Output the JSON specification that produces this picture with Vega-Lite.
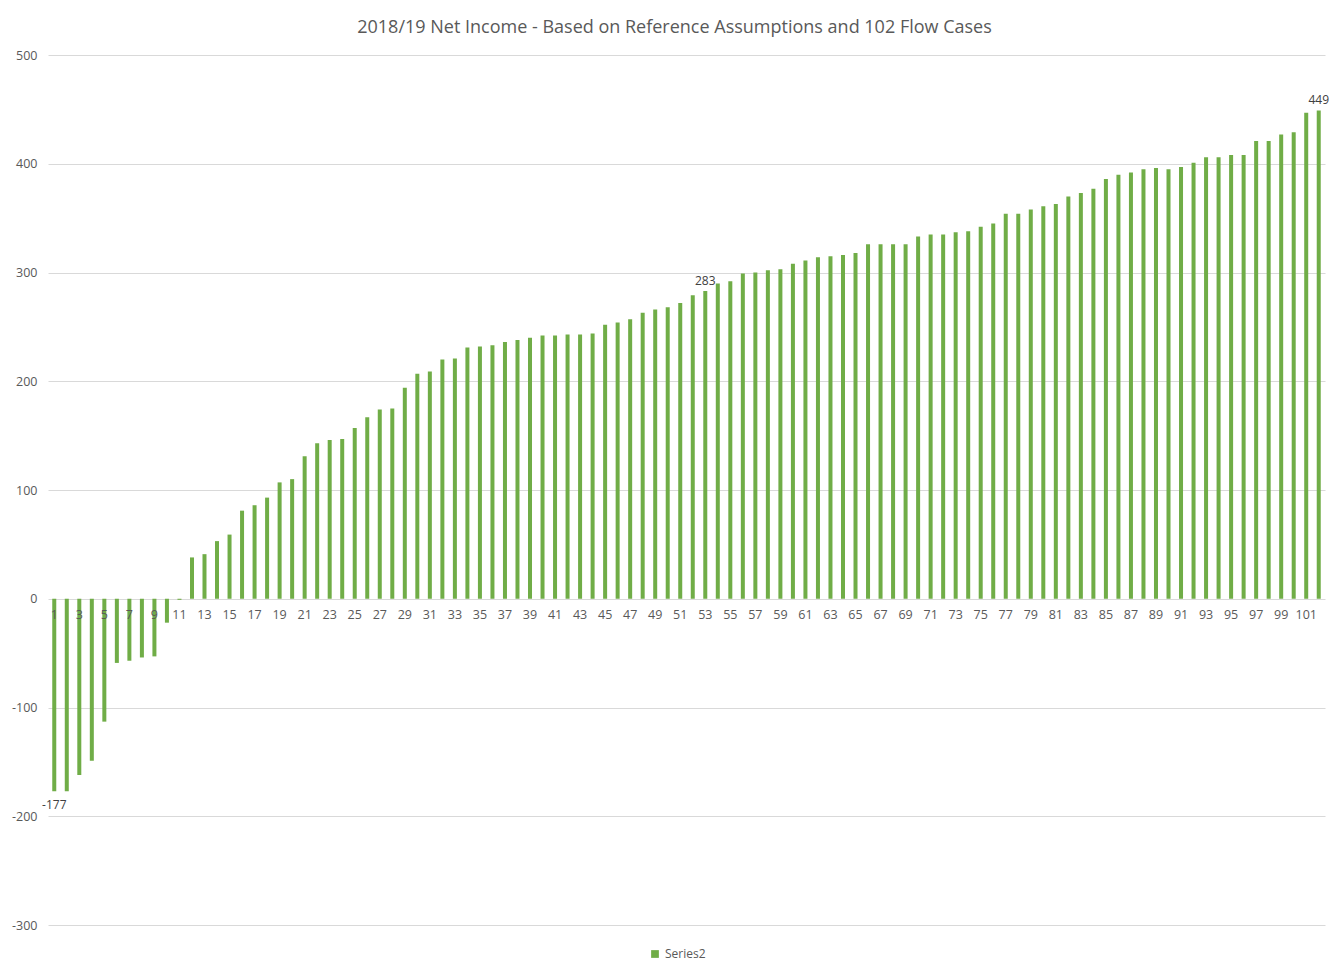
{
  "$schema": "https://vega.github.io/schema/vega-lite/v6.json",
  "autosize": "none",
  "width": 1277,
  "height": 870,
  "padding": {"left": 48, "top": 55, "right": 19, "bottom": 50},
  "background": "white",
  "config": {
    "font": "Open Sans",
    "view": {"stroke": null},
    "axis": {"labelColor": "#595959", "labelFont": "Open Sans", "labelFontSize": 12.5}
  },
  "title": {
    "text": "2018/19 Net Income - Based on Reference Assumptions and 102 Flow Cases",
    "font": "Open Sans",
    "fontSize": 18,
    "fontWeight": "normal",
    "color": "#595959",
    "anchor": "middle",
    "offset": 12,
    "dx": -12
  },
  "data": {
    "values": [
      {"case": 1, "value": -177, "series": "Series2"},
      {"case": 2, "value": -177, "series": "Series2"},
      {"case": 3, "value": -162, "series": "Series2"},
      {"case": 4, "value": -149, "series": "Series2"},
      {"case": 5, "value": -113, "series": "Series2"},
      {"case": 6, "value": -59, "series": "Series2"},
      {"case": 7, "value": -57, "series": "Series2"},
      {"case": 8, "value": -54, "series": "Series2"},
      {"case": 9, "value": -53, "series": "Series2"},
      {"case": 10, "value": -22, "series": "Series2"},
      {"case": 11, "value": -1, "series": "Series2"},
      {"case": 12, "value": 38, "series": "Series2"},
      {"case": 13, "value": 41, "series": "Series2"},
      {"case": 14, "value": 53, "series": "Series2"},
      {"case": 15, "value": 59, "series": "Series2"},
      {"case": 16, "value": 81, "series": "Series2"},
      {"case": 17, "value": 86, "series": "Series2"},
      {"case": 18, "value": 93, "series": "Series2"},
      {"case": 19, "value": 107, "series": "Series2"},
      {"case": 20, "value": 110, "series": "Series2"},
      {"case": 21, "value": 131, "series": "Series2"},
      {"case": 22, "value": 143, "series": "Series2"},
      {"case": 23, "value": 146, "series": "Series2"},
      {"case": 24, "value": 147, "series": "Series2"},
      {"case": 25, "value": 157, "series": "Series2"},
      {"case": 26, "value": 167, "series": "Series2"},
      {"case": 27, "value": 174, "series": "Series2"},
      {"case": 28, "value": 175, "series": "Series2"},
      {"case": 29, "value": 194, "series": "Series2"},
      {"case": 30, "value": 207, "series": "Series2"},
      {"case": 31, "value": 209, "series": "Series2"},
      {"case": 32, "value": 220, "series": "Series2"},
      {"case": 33, "value": 221, "series": "Series2"},
      {"case": 34, "value": 231, "series": "Series2"},
      {"case": 35, "value": 232, "series": "Series2"},
      {"case": 36, "value": 233, "series": "Series2"},
      {"case": 37, "value": 236, "series": "Series2"},
      {"case": 38, "value": 238, "series": "Series2"},
      {"case": 39, "value": 240, "series": "Series2"},
      {"case": 40, "value": 242, "series": "Series2"},
      {"case": 41, "value": 242, "series": "Series2"},
      {"case": 42, "value": 243, "series": "Series2"},
      {"case": 43, "value": 243, "series": "Series2"},
      {"case": 44, "value": 244, "series": "Series2"},
      {"case": 45, "value": 252, "series": "Series2"},
      {"case": 46, "value": 254, "series": "Series2"},
      {"case": 47, "value": 257, "series": "Series2"},
      {"case": 48, "value": 263, "series": "Series2"},
      {"case": 49, "value": 266, "series": "Series2"},
      {"case": 50, "value": 268, "series": "Series2"},
      {"case": 51, "value": 272, "series": "Series2"},
      {"case": 52, "value": 279, "series": "Series2"},
      {"case": 53, "value": 283, "series": "Series2"},
      {"case": 54, "value": 290, "series": "Series2"},
      {"case": 55, "value": 292, "series": "Series2"},
      {"case": 56, "value": 299, "series": "Series2"},
      {"case": 57, "value": 300, "series": "Series2"},
      {"case": 58, "value": 302, "series": "Series2"},
      {"case": 59, "value": 303, "series": "Series2"},
      {"case": 60, "value": 308, "series": "Series2"},
      {"case": 61, "value": 311, "series": "Series2"},
      {"case": 62, "value": 314, "series": "Series2"},
      {"case": 63, "value": 315, "series": "Series2"},
      {"case": 64, "value": 316, "series": "Series2"},
      {"case": 65, "value": 318, "series": "Series2"},
      {"case": 66, "value": 326, "series": "Series2"},
      {"case": 67, "value": 326, "series": "Series2"},
      {"case": 68, "value": 326, "series": "Series2"},
      {"case": 69, "value": 326, "series": "Series2"},
      {"case": 70, "value": 333, "series": "Series2"},
      {"case": 71, "value": 335, "series": "Series2"},
      {"case": 72, "value": 335, "series": "Series2"},
      {"case": 73, "value": 337, "series": "Series2"},
      {"case": 74, "value": 338, "series": "Series2"},
      {"case": 75, "value": 342, "series": "Series2"},
      {"case": 76, "value": 345, "series": "Series2"},
      {"case": 77, "value": 354, "series": "Series2"},
      {"case": 78, "value": 354, "series": "Series2"},
      {"case": 79, "value": 358, "series": "Series2"},
      {"case": 80, "value": 361, "series": "Series2"},
      {"case": 81, "value": 363, "series": "Series2"},
      {"case": 82, "value": 370, "series": "Series2"},
      {"case": 83, "value": 373, "series": "Series2"},
      {"case": 84, "value": 377, "series": "Series2"},
      {"case": 85, "value": 386, "series": "Series2"},
      {"case": 86, "value": 390, "series": "Series2"},
      {"case": 87, "value": 392, "series": "Series2"},
      {"case": 88, "value": 395, "series": "Series2"},
      {"case": 89, "value": 396, "series": "Series2"},
      {"case": 90, "value": 395, "series": "Series2"},
      {"case": 91, "value": 397, "series": "Series2"},
      {"case": 92, "value": 401, "series": "Series2"},
      {"case": 93, "value": 406, "series": "Series2"},
      {"case": 94, "value": 406, "series": "Series2"},
      {"case": 95, "value": 408, "series": "Series2"},
      {"case": 96, "value": 408, "series": "Series2"},
      {"case": 97, "value": 421, "series": "Series2"},
      {"case": 98, "value": 421, "series": "Series2"},
      {"case": 99, "value": 427, "series": "Series2"},
      {"case": 100, "value": 429, "series": "Series2"},
      {"case": 101, "value": 447, "series": "Series2"},
      {"case": 102, "value": 449, "series": "Series2"}
    ]
  },
  "encoding": {
    "x": {
      "field": "case",
      "type": "ordinal",
      "sort": "ascending",
      "scale": {"paddingInner": 0.68, "paddingOuter": 0.34},
      "axis": {
        "title": null,
        "values": [1,3,5,7,9,11,13,15,17,19,21,23,25,27,29,31,33,35,37,39,41,43,45,47,49,51,53,55,57,59,61,63,65,67,69,71,73,75,77,79,81,83,85,87,89,91,93,95,97,99,101],
        "labelAngle": 0,
        "ticks": false,
        "domain": false,
        "offset": -326,
        "labelPadding": 9,
        "zindex": 2
      }
    },
    "y": {
      "field": "value",
      "type": "quantitative",
      "scale": {"domain": [-300, 500], "nice": false, "zero": true},
      "axis": {
        "title": null,
        "values": [-300, -200, -100, 0, 100, 200, 300, 400, 500],
        "labelExpr": "replace(datum.label, '−', '-')",
        "ticks": false,
        "domain": false,
        "labelPadding": 11,
        "gridColor": "#D9D9D9",
        "gridWidth": 1
      }
    }
  },
  "layer": [
    {
      "mark": {"type": "bar"},
      "encoding": {
        "color": {
          "field": "series",
          "type": "nominal",
          "scale": {"range": ["#70AD47"]},
          "legend": {
            "title": null,
            "orient": "none",
            "legendX": 601,
            "legendY": 893,
            "symbolType": "square",
            "symbolSize": 60,
            "labelFontSize": 12,
            "labelColor": "#595959",
            "labelFont": "Open Sans"
          }
        }
      }
    },
    {
      "transform": [{"filter": "datum.case == 53 || datum.case == 102"}],
      "mark": {"type": "text", "baseline": "bottom", "dy": -3, "fontSize": 12, "color": "#404040", "font": "Open Sans"},
      "encoding": {"text": {"field": "value", "type": "nominal"}}
    },
    {
      "transform": [{"filter": "datum.case == 1"}],
      "mark": {"type": "text", "baseline": "top", "dy": 9, "fontSize": 12, "color": "#404040", "font": "Open Sans"},
      "encoding": {"text": {"field": "value", "type": "nominal"}}
    }
  ]
}
